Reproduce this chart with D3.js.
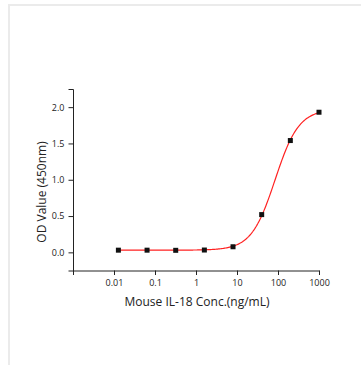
<!DOCTYPE html>
<html>
<head>
<meta charset="utf-8">
<script src="https://cdn.jsdelivr.net/npm/d3@7"></script>
<style>
  body { margin: 0; background: #fff; }
  #frame { position: absolute; left: 8px; top: 4px; width: 400px; height: 400px;
           border-top: 2px solid #ebebeb; border-left: 2px solid #ebebeb; }
  svg { position: absolute; left: 0; top: 0; }
  text { font-family: "Open Sans", sans-serif; fill: #222; }
</style>
</head>
<body>
<div id="frame"></div>
<div id="chart"></div>
<script>
// concentrations (ng/mL) and OD readings
var conc = [0.0128, 0.064, 0.32, 1.6, 8, 40, 200, 1000];
var od = [0.03, 0.03, 0.028, 0.032, 0.077, 0.52, 1.54, 1.93];
// 4PL fit: bottom, top, ec50, hill
var fitBottom = 0.03, fitTop = 1.97, fitEC50 = 85, fitHill = 1.5;

var xTicks = [0.01, 0.1, 1, 10, 100, 1000];
var yTicks = [0, 0.5, 1.0, 1.5, 2.0];

var W = 361, H = 365;
var svg = d3.select("#chart").append("svg")
  .attr("width", W).attr("height", H);

var x = d3.scaleLog().domain([0.001, 1000]).range([73, 319]);
var y = d3.scaleLinear().domain([-0.25, 2.25]).range([270.5, 89]);

// minor ticks
var xMinor = [];
for (var e = -3; e < 3; e++) {
  for (var k = 2; k < 10; k++) xMinor.push(k * Math.pow(10, e));
}
var yMinor = [-0.25, 0.25, 0.75, 1.25, 1.75, 2.25];

var gx = svg.append("g").attr("transform", "translate(0," + y.range()[0] + ")");
gx.call(d3.axisBottom(x).tickValues(xMinor).tickSize(2.5).tickFormat(""));
gx.call(d3.axisBottom(x).tickValues(xTicks).tickSize(4.5).tickPadding(5)
  .tickFormat(function(d) { return d3.format("~g")(d); }));

var gy = svg.append("g").attr("transform", "translate(" + x.range()[0] + ",0)");
gy.call(d3.axisLeft(y).tickValues(yMinor).tickSize(2.5).tickFormat(""));
gy.call(d3.axisLeft(y).tickValues(yTicks).tickSize(4.5).tickPadding(4)
  .tickFormat(d3.format(".1f")));

svg.selectAll(".domain").attr("stroke", "#222").attr("stroke-width", 1);
svg.selectAll(".tick line").attr("stroke", "#222");
svg.selectAll(".tick text").style("font-size", "9px").attr("fill", "#222");

// fitted curve
function fit(c) {
  return fitTop + (fitBottom - fitTop) / (1 + Math.pow(c / fitEC50, fitHill));
}
var curveX = d3.range(0, 201).map(function(i) {
  var lo = Math.log10(conc[0]), hi = Math.log10(conc[conc.length - 1]);
  return Math.pow(10, lo + (hi - lo) * i / 200);
});
svg.append("path")
  .datum(curveX)
  .attr("fill", "none")
  .attr("stroke", "#ff2020")
  .attr("stroke-width", 1.2)
  .attr("d", d3.line().x(function(c) { return x(c); }).y(function(c) { return y(fit(c)); }));

svg.selectAll(".pt")
  .data(conc)
  .enter().append("rect")
  .attr("x", function(d) { return x(d) - 2.5; })
  .attr("y", function(d, i) { return y(od[i]) - 2.5; })
  .attr("width", 5).attr("height", 5)
  .attr("fill", "#111");

svg.append("text")
  .attr("x", 197).attr("y", 306)
  .attr("text-anchor", "middle")
  .style("font-size", "12px")
  .text("Mouse IL-18 Conc.(ng/mL)");

svg.append("text")
  .attr("transform", "translate(46,192) rotate(-90)")
  .attr("text-anchor", "middle")
  .style("font-size", "12px")
  .text("OD Value (450nm)");
</script>
</body>
</html>
